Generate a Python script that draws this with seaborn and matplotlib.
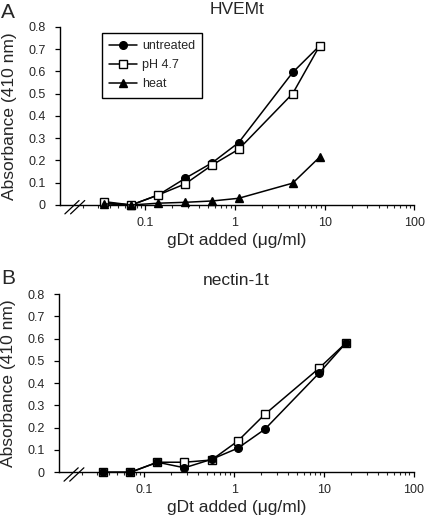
import pandas as pd
import matplotlib
matplotlib.use("Agg")
import matplotlib.pyplot as plt
import matplotlib.ticker as mticker
import seaborn as sns

# Panel A: HVEMt
conc_a = [0.035, 0.07, 0.14, 0.28, 0.56, 1.1, 4.4, 8.8]
untreated_a = [0.01, 0.0, 0.045, 0.12, 0.19, 0.28, 0.595, 0.715]
ph_a = [0.015, 0.0, 0.045, 0.095, 0.18, 0.25, 0.50, 0.715]
heat_a = [0.005, 0.0, 0.008, 0.012, 0.018, 0.03, 0.098, 0.215]

# Panel B: nectin-1t
conc_b = [0.035, 0.07, 0.14, 0.28, 0.56, 1.1, 2.2, 8.8, 17.6]
untreated_b = [0.0, 0.0, 0.045, 0.02, 0.058, 0.108, 0.193, 0.444, 0.58]
ph_b = [0.0, 0.0, 0.045, 0.045, 0.055, 0.14, 0.26, 0.466, 0.58]

X_TICKS = [0.1, 1, 10, 100]
X_TICK_LABELS = ["0.1", "1", "10", "100"]
Y_TICKS = [0, 0.1, 0.2, 0.3, 0.4, 0.5, 0.6, 0.7, 0.8]

sns.set_style("ticks")
plt.rcParams["font.family"] = ["Liberation Sans", "DejaVu Sans"]

STYLES = {
    "untreated": dict(marker="o", markerfacecolor="black"),
    "pH 4.7": dict(marker="s", markerfacecolor="white"),
    "heat": dict(marker="^", markerfacecolor="black"),
}


def draw_series(ax, x, y, name):
    st = STYLES[name]
    sns.lineplot(x=x, y=y, ax=ax, color="black", linewidth=1.1,
                 marker=st["marker"], markersize=5.5,
                 markerfacecolor=st["markerfacecolor"], markeredgecolor="black",
                 markeredgewidth=1.0, label=name, clip_on=False, zorder=3)


def style_axes(ax, title, title_pad):
    ax.set_xscale("log")
    ax.set_xlim(0.0112, 100)
    ax.set_ylim(0, 0.8)
    ax.set_xticks(X_TICKS)
    ax.set_xticklabels(X_TICK_LABELS)
    ax.xaxis.set_minor_locator(mticker.LogLocator(base=10, subs=range(2, 10)))
    ax.xaxis.set_minor_formatter(mticker.NullFormatter())
    ax.set_yticks(Y_TICKS)
    ax.set_yticklabels(["0" if v == 0 else f"{v:.1f}" for v in Y_TICKS])
    ax.tick_params(axis="both", which="major", labelsize=9, length=3.5,
                   width=0.9, color="black", direction="out")
    ax.tick_params(axis="y", pad=6.8)
    ax.tick_params(axis="x", which="major", pad=5)
    ax.tick_params(axis="x", which="minor", length=2.2, width=0.8)
    for side in ("top", "right"):
        ax.spines[side].set_visible(False)
    for side in ("left", "bottom"):
        ax.spines[side].set_linewidth(1.0)
        ax.spines[side].set_color("black")
    ax.set_title(title, fontsize=12.5, pad=title_pad)
    ax.set_xlabel("gDt added (\u03bcg/ml)", fontsize=12.5, labelpad=3)
    ax.set_ylabel("Absorbance (410 nm)", fontsize=12.5, labelpad=8)
    # axis break marks
    for x0 in (0.014, 0.030):
        ax.plot([x0, x0 + 0.04], [-0.05, 0.025], color="black", lw=0.9,
                transform=ax.transAxes, clip_on=False)


fig = plt.figure(figsize=(4.25, 5.15), dpi=100)
ax_a = fig.add_axes([0.141, 0.602, 0.834, 0.346])
ax_b = fig.add_axes([0.139, 0.083, 0.834, 0.346])

draw_series(ax_a, conc_a, untreated_a, "untreated")
draw_series(ax_a, conc_a, ph_a, "pH 4.7")
draw_series(ax_a, conc_a, heat_a, "heat")
style_axes(ax_a, "HVEMt", 9)
leg = ax_a.legend(loc="upper left", bbox_to_anchor=(0.118, 0.966), borderaxespad=0,
                  fontsize=9, frameon=True, fancybox=False, edgecolor="black",
                  framealpha=1, handlelength=2.2, handletextpad=0.4,
                  labelspacing=0.55, borderpad=0.6)
leg.get_frame().set_linewidth(1.0)

draw_series(ax_b, conc_b, ph_b, "pH 4.7")
draw_series(ax_b, conc_b, untreated_b, "untreated")
style_axes(ax_b, "nectin-1t", 6.5)
ax_b.get_legend().remove()

fig.text(0.003, 0.995, "A", fontsize=15, va="top", ha="left")
fig.text(0.003, 0.478, "B", fontsize=15, va="top", ha="left")

fig.savefig("out.png", dpi=100)
